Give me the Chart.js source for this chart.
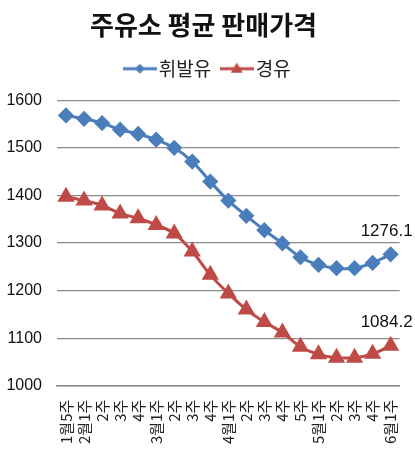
<!DOCTYPE html>
<html>
<head>
<meta charset="utf-8">
<script src="https://cdn.jsdelivr.net/npm/chart.js@4"></script>
<style>
  html, body { margin: 0; padding: 0; background: #fff; }
  #wrap { width: 415px; height: 454px; }
</style>
</head>
<body>
<div id="wrap"><canvas id="priceChart"></canvas></div>
<script>
const weeks = ['1월5주', '2월1주', '2주', '3주', '4주', '3월1주', '2주', '3주', '4주',
  '4월1주', '2주', '3주', '4주', '5주', '5월1주', '2주', '3주', '4주', '6월1주'];
const gasoline = [1568, 1561, 1552, 1538, 1529, 1517, 1500, 1471, 1429, 1389, 1357, 1327,
  1299, 1270, 1254, 1247, 1247, 1258, 1276.1];
const diesel = [1397, 1389, 1379, 1362, 1352, 1338, 1320, 1282, 1233, 1194, 1160, 1134,
  1112, 1082, 1066, 1059, 1059, 1067, 1084.2];
const yTicks = [1000, 1100, 1200, 1300, 1400, 1500, 1600];

const BLUE = '#4a7ebb';
const RED = '#be4b48';
const FONT = "'Liberation Sans', Arial, 'Noto Sans CJK KR', sans-serif";
const KFONT = "'Noto Sans CJK KR', sans-serif";

// little line + marker swatch for the legend
function swatch(color, style) {
    const c = document.createElement('canvas');
    c.width = 34; c.height = 14;
    const g = c.getContext('2d');
    g.strokeStyle = color; g.fillStyle = color; g.lineWidth = 3;
    g.beginPath(); g.moveTo(0, 7); g.lineTo(34, 7); g.stroke();
    g.beginPath();
    if (style === 'rectRot') {
        g.moveTo(17, 2); g.lineTo(22, 7); g.lineTo(17, 12); g.lineTo(12, 7);
    } else {
        g.moveTo(17, 1); g.lineTo(23, 11); g.lineTo(11, 11);
    }
    g.closePath(); g.fill();
    return c;
}

const lastValueLabels = {
    id: 'lastValueLabels',
    afterDatasetsDraw(chart) {
        const ctx = chart.ctx;
        ctx.save();
        ctx.font = '17px ' + FONT;
        ctx.fillStyle = '#111';
        ctx.textAlign = 'center';
        ctx.textBaseline = 'middle';
        chart.data.datasets.forEach((ds, i) => {
            const pts = chart.getDatasetMeta(i).data;
            const p = pts[pts.length - 1];
            const v = ds.data[ds.data.length - 1];
            ctx.fillText(v.toFixed(1), p.x - 4, p.y - 23);
        });
        ctx.restore();
    }
};

// extra room under the legend, and nudge it a bit to the right
const legendTweak = {
    id: 'legendTweak',
    beforeInit(chart) {
        const legend = chart.legend;
        const fit = legend.fit;
        legend.fit = function() {
            fit.call(legend);
            this.height += 12;
        };
        const draw = legend.draw;
        legend.draw = function() {
            chart.ctx.save();
            chart.ctx.translate(7, 0);
            draw.call(legend);
            chart.ctx.restore();
        };
    }
};

const ctx = document.getElementById('priceChart').getContext('2d');
new Chart(ctx, {
    type: 'line',
    data: {
        labels: weeks,
        datasets: [{
            label: '휘발유',
            data: gasoline,
            borderColor: BLUE,
            backgroundColor: BLUE,
            borderWidth: 3,
            pointStyle: 'rectRot',
            pointRadius: 6,
            pointHoverRadius: 6,
            tension: 0.35,
            _swatch: swatch(BLUE, 'rectRot')
        }, {
            label: '경유',
            data: diesel,
            borderColor: RED,
            backgroundColor: RED,
            borderWidth: 3,
            pointStyle: 'triangle',
            pointRadius: 7,
            pointHoverRadius: 7,
            tension: 0.35,
            _swatch: swatch(RED, 'triangle')
        }]
    },
    options: {
        responsive: true,
        maintainAspectRatio: false,
        animation: false,
        layout: { padding: { left: 6, right: 14, top: 6, bottom: 4 } },
        plugins: {
            title: {
                display: true,
                text: '주유소 평균 판매가격',
                color: '#111',
                font: { family: KFONT, size: 26, weight: 'bold' },
                padding: { top: 4, bottom: 2 }
            },
            legend: {
                position: 'top',
                labels: {
                    color: '#222',
                    font: { family: KFONT, size: 19 },
                    usePointStyle: true,
                    padding: 16,
                    boxWidth: 34,
                    generateLabels(chart) {
                        return chart.data.datasets.map((ds, i) => ({
                            text: ds.label,
                            pointStyle: ds._swatch,
                            fontColor: '#222',
                            datasetIndex: i,
                            hidden: false,
                            lineWidth: 0
                        }));
                    }
                }
            },
            tooltip: { enabled: false }
        },
        scales: {
            x: {
                offset: true,
                grid: { display: false },
                border: { color: '#888', width: 1.5 },
                afterFit(scale) { scale.paddingLeft = 0; },
                ticks: {
                    color: '#222',
                    minRotation: 90,
                    maxRotation: 90,
                    autoSkip: false,
                    padding: 6,
                    font: { family: KFONT, size: 15 }
                }
            },
            y: {
                min: 1000,
                max: 1600,
                afterBuildTicks(axis) { axis.ticks = yTicks.map(v => ({ value: v })); },
                afterFit(scale) { scale.width = 51; },
                grid: { color: '#8a8a8a', lineWidth: 1.2, drawTicks: false },
                border: { display: false },
                ticks: {
                    color: '#111',
                    padding: 15,
                    font: { family: FONT, size: 16 },
                    callback: v => String(v)
                }
            }
        }
    },
    plugins: [lastValueLabels, legendTweak]
});
</script>
</body>
</html>
